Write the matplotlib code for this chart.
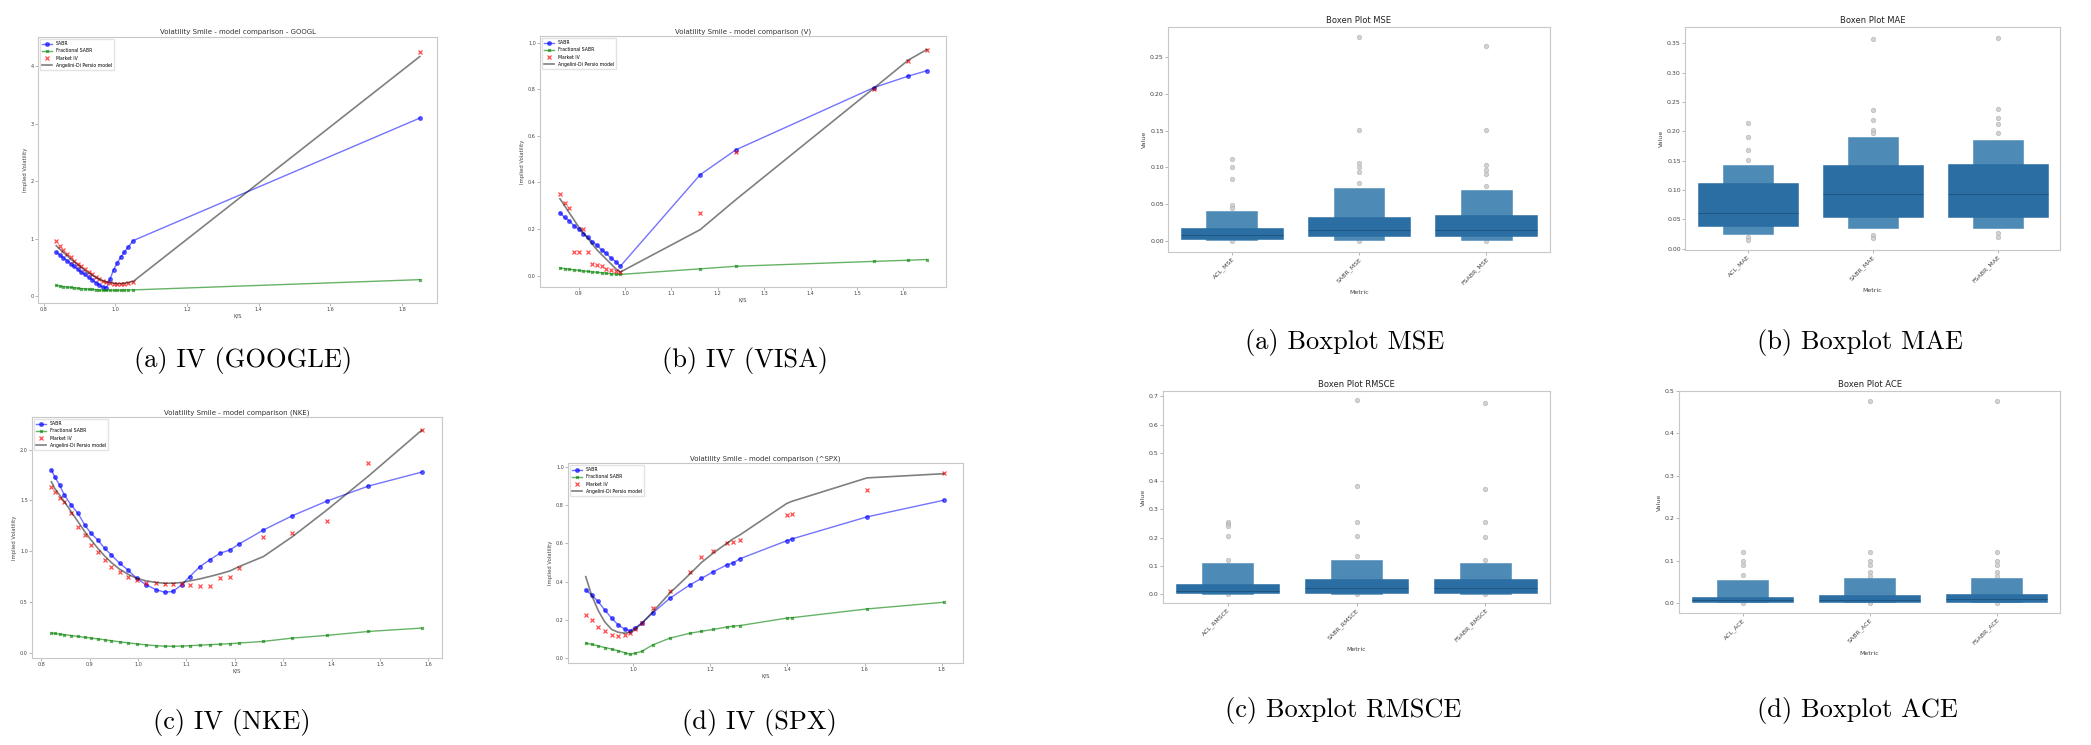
import matplotlib.pyplot as plt

W, H = 2091, 745

# ---------------- implied volatility smiles ----------------
google_k = [0.835, 0.845, 0.855, 0.865, 0.875, 0.885, 0.895, 0.905, 0.915, 0.925, 0.935,
            0.945, 0.955, 0.965, 0.975, 0.985, 0.995, 1.005, 1.015, 1.025, 1.035, 1.05, 1.85]
google_sabr = [0.77, 0.72, 0.67, 0.62, 0.57, 0.52, 0.47, 0.42, 0.38, 0.33, 0.29,
               0.24, 0.20, 0.16, 0.15, 0.30, 0.46, 0.58, 0.68, 0.77, 0.85, 0.97, 3.10]
google_frac = [0.19, 0.18, 0.17, 0.16, 0.155, 0.15, 0.14, 0.135, 0.13, 0.125, 0.12,
               0.115, 0.11, 0.105, 0.105, 0.105, 0.106, 0.107, 0.108, 0.109, 0.11, 0.112, 0.29]
google_market = [0.96, 0.88, 0.80, 0.74, 0.68, 0.62, 0.57, 0.52, 0.47, 0.42, 0.38,
                 0.34, 0.30, 0.27, 0.25, 0.24, 0.22, 0.21, 0.21, 0.22, 0.23, 0.25, 4.25]
google_model = [0.88, 0.82, 0.76, 0.71, 0.65, 0.60, 0.55, 0.50, 0.45, 0.41, 0.37,
                0.33, 0.30, 0.27, 0.25, 0.24, 0.23, 0.22, 0.22, 0.23, 0.24, 0.26, 4.17]

visa_k = [0.86, 0.87, 0.88, 0.89, 0.90, 0.91, 0.92, 0.93, 0.94, 0.95, 0.96, 0.97, 0.98, 0.99,
          1.162, 1.239, 1.536, 1.611, 1.651]
visa_sabr = [0.27, 0.25, 0.235, 0.215, 0.20, 0.18, 0.165, 0.145, 0.13, 0.11, 0.095, 0.075, 0.06, 0.04,
             0.433, 0.54, 0.807, 0.857, 0.88]
visa_frac = [0.033, 0.03, 0.027, 0.025, 0.022, 0.02, 0.018, 0.016, 0.014, 0.012, 0.01, 0.008, 0.006, 0.005,
             0.029, 0.04, 0.061, 0.066, 0.069]
visa_market = [0.35, 0.31, 0.29, 0.10, 0.10, 0.20, 0.10, 0.05, 0.045, 0.04, 0.03, 0.025, 0.02, 0.015,
               0.269, 0.529, 0.80, 0.92, 0.97]
visa_model = [0.33, 0.30, 0.27, 0.24, 0.21, 0.185, 0.16, 0.135, 0.11, 0.09, 0.07, 0.05, 0.03, 0.015,
              0.197, 0.326, 0.804, 0.926, 0.971]

nke_k = [0.821, 0.828, 0.838, 0.848, 0.862, 0.876, 0.890, 0.903, 0.917, 0.931, 0.945, 0.962, 0.979,
         0.997, 1.017, 1.038, 1.055, 1.072, 1.090, 1.107, 1.128, 1.148, 1.169, 1.190, 1.209,
         1.259, 1.319, 1.390, 1.476, 1.586]
nke_sabr = [1.797, 1.732, 1.650, 1.552, 1.454, 1.373, 1.258, 1.176, 1.111, 1.029, 0.964, 0.882, 0.817,
            0.735, 0.670, 0.621, 0.598, 0.605, 0.670, 0.752, 0.850, 0.915, 0.980, 1.013, 1.072,
            1.209, 1.350, 1.493, 1.641, 1.778]
nke_frac = [0.196, 0.192, 0.186, 0.180, 0.172, 0.163, 0.155, 0.147, 0.139, 0.130, 0.121, 0.110, 0.100,
            0.090, 0.080, 0.072, 0.067, 0.066, 0.068, 0.072, 0.077, 0.082, 0.087, 0.092, 0.098,
            0.114, 0.147, 0.173, 0.212, 0.245]
nke_market = [1.634, 1.585, 1.520, 1.487, 1.373, 1.242, 1.160, 1.062, 0.997, 0.915, 0.850, 0.800, 0.752,
              0.719, 0.693, 0.686, 0.683, 0.680, 0.676, 0.670, 0.660, 0.654, 0.735, 0.752, 0.833,
              1.144, 1.176, 1.301, 1.869, 2.196]
nke_model = [1.683, 1.618, 1.552, 1.487, 1.389, 1.291, 1.193, 1.111, 1.029, 0.954, 0.889, 0.824, 0.775,
             0.735, 0.709, 0.693, 0.686, 0.686, 0.693, 0.709, 0.729, 0.752, 0.778, 0.807, 0.850,
             0.948, 1.144, 1.405, 1.739, 2.190]

spx_k = [0.877, 0.892, 0.909, 0.926, 0.944, 0.961, 0.978, 0.991, 1.004, 1.022, 1.052, 1.095,
         1.147, 1.177, 1.208, 1.242, 1.260, 1.277, 1.398, 1.411, 1.606, 1.805]
spx_sabr = [0.357, 0.330, 0.296, 0.252, 0.209, 0.174, 0.151, 0.144, 0.157, 0.183, 0.238, 0.313,
            0.383, 0.417, 0.452, 0.487, 0.499, 0.520, 0.614, 0.623, 0.739, 0.826]
spx_frac = [0.078, 0.072, 0.064, 0.055, 0.047, 0.038, 0.028, 0.020, 0.025, 0.035, 0.070, 0.104,
            0.130, 0.140, 0.150, 0.162, 0.167, 0.170, 0.209, 0.211, 0.257, 0.292]
spx_market = [0.226, 0.200, 0.165, 0.140, 0.122, 0.113, 0.118, 0.130, 0.150, 0.185, 0.260, 0.350,
              0.450, 0.530, 0.560, 0.600, 0.610, 0.620, 0.748, 0.753, 0.882, 0.969]
spx_model = [0.426, 0.330, 0.250, 0.190, 0.150, 0.135, 0.130, 0.135, 0.150, 0.180, 0.245, 0.340,
             0.440, 0.500, 0.550, 0.600, 0.625, 0.645, 0.809, 0.820, 0.943, 0.965]

series_names = ['SABR', 'Fractional SABR', 'Market IV', 'Angelini-Di Persio model']

# ---------------- error metrics (letter-value boxes) ----------------
models = ['ACL', 'SABR', 'FSABR']

mse_q = [(0.003, 0.018), (0.0064, 0.0327), (0.0064, 0.036)]
mse_e = [(0.001, 0.041), (0.002, 0.0727), (0.002, 0.070)]
mse_med = [0.008, 0.015, 0.015]
mse_out = [[0.111, 0.101, 0.084, 0.049, 0.045, 0.0],
           [0.277, 0.151, 0.106, 0.101, 0.094, 0.079, 0.0],
           [0.265, 0.151, 0.103, 0.097, 0.091, 0.075, 0.0]]

mae_q = [(0.0386, 0.112), (0.055, 0.143), (0.0545, 0.145)]
mae_e = [(0.026, 0.143), (0.035, 0.191), (0.036, 0.186)]
mae_med = [0.061, 0.094, 0.094]
mae_out = [[0.215, 0.190, 0.168, 0.152, 0.020, 0.015],
           [0.358, 0.236, 0.219, 0.203, 0.198, 0.024, 0.019],
           [0.360, 0.239, 0.223, 0.212, 0.198, 0.027, 0.020]]

rmsce_q = [(0.0035, 0.035), (0.0035, 0.054), (0.0035, 0.054)]
rmsce_e = [(0.001, 0.109), (0.001, 0.121), (0.001, 0.108)]
rmsce_med = [0.012, 0.02, 0.02]
rmsce_out = [[0.256, 0.248, 0.239, 0.204, 0.121, 0.0],
             [0.686, 0.382, 0.256, 0.204, 0.133, 0.0],
             [0.676, 0.372, 0.256, 0.201, 0.121, 0.0]]

ace_q = [(0.0024, 0.0133), (0.0024, 0.018), (0.0024, 0.021)]
ace_e = [(0.0015, 0.055), (0.0015, 0.059), (0.0015, 0.059)]
ace_med = [0.006, 0.008, 0.009]
ace_out = [[0.12, 0.098, 0.090, 0.067, 0.0],
           [0.476, 0.12, 0.098, 0.090, 0.074, 0.064, 0.0],
           [0.476, 0.12, 0.098, 0.090, 0.074, 0.064, 0.0]]


def rect(left, top, right, bottom):
    return [left / W, 1 - bottom / H, (right - left) / W, (bottom - top) / H]


def style_axes(ax, size):
    for s in ax.spines.values():
        s.set_color('#c8c8c8')
        s.set_linewidth(0.8)
    ax.tick_params(labelsize=size, length=2, width=0.5, color='#999999', labelcolor='#444444', pad=1)


def smile(ax, k, sabr, frac, market, model, title, xticks, yticks, xlim, ylim):
    ax.plot(k, sabr, color='blue', marker='o', ms=2.6, lw=1.0, alpha=0.55, label=series_names[0])
    ax.plot(k, frac, color='green', marker='x', ms=2.0, lw=1.0, alpha=0.6, label=series_names[1])
    ax.plot(k, market, 'x', color='red', ms=3.0, mew=0.9, alpha=0.7, label=series_names[2])
    ax.plot(k, model, color='black', lw=1.2, alpha=0.5, label=series_names[3])
    ax.set_xlim(xlim)
    ax.set_ylim(ylim)
    ax.set_xticks(xticks)
    ax.set_yticks(yticks)
    style_axes(ax, 3.5)
    ax.set_title(title, fontsize=5, pad=2, color='#333333')
    ax.set_xlabel('K/S', fontsize=3.8, labelpad=1, color='#444444')
    ax.set_ylabel('Implied Volatility', fontsize=3.8, labelpad=2, color='#444444')
    ax.legend(loc='upper left', fontsize=3.3, frameon=True, borderpad=0.4, labelspacing=0.5,
              handlelength=2.2, edgecolor='#dddddd', fancybox=False)


def boxen(ax, metric, q, e, med, out, yticks, ylim):
    pos = list(range(len(models)))
    ax.bar(pos, [hi - lo for lo, hi in e], bottom=[lo for lo, hi in e], width=0.4,
           color='#4d8ab6', edgecolor='#4d8ab6', lw=0.4, zorder=2)
    ax.bar(pos, [hi - lo for lo, hi in q], bottom=[lo for lo, hi in q], width=0.8,
           color='#2b6ea3', edgecolor='#2b6ea3', lw=0.4, zorder=3)
    ax.hlines(med, [p - 0.4 for p in pos], [p + 0.4 for p in pos], color='#1f5580', lw=0.7, zorder=4)
    for p, pts in zip(pos, out):
        ax.plot([p] * len(pts), pts, 'o', ms=3.2, mfc='#c9c9c9', mec='#b0b0b0', mew=0.5,
                alpha=0.8, zorder=1)
    ax.set_xlim(-0.5, len(models) - 0.5)
    ax.set_ylim(ylim)
    ax.set_yticks(yticks)
    ax.set_xticks(pos)
    ax.set_xticklabels([m + '_' + metric for m in models], rotation=45, ha='right',
                       rotation_mode='anchor')
    style_axes(ax, 4.5)
    ax.set_title('Boxen Plot ' + metric, fontsize=6, pad=3, color='#222222')
    ax.set_xlabel('Metric', fontsize=4.5, labelpad=3, color='#444444')
    ax.set_ylabel('Value', fontsize=4.5, labelpad=2, color='#444444')


fig = plt.figure(figsize=(W / 100, H / 100), dpi=100)

ax = fig.add_axes(rect(38, 37, 437, 303))
smile(ax, google_k, google_sabr, google_frac, google_market, google_model,
      'Volatility Smile - model comparison - GOOGL',
      [0.8, 1.0, 1.2, 1.4, 1.6, 1.8], [0, 1, 2, 3, 4], (0.784, 1.898), (-0.116, 4.51))

ax = fig.add_axes(rect(540, 36, 946, 287))
smile(ax, visa_k, visa_sabr, visa_frac, visa_market, visa_model,
      'Volatility Smile - model comparison (V)',
      [0.9, 1.0, 1.1, 1.2, 1.3, 1.4, 1.5, 1.6], [0.0, 0.2, 0.4, 0.6, 0.8, 1.0],
      (0.859 - 0.042, 1.651 + 0.041), (-0.049, 1.029))

ax = fig.add_axes(rect(32, 417, 442, 658))
smile(ax, nke_k, nke_sabr, nke_frac, nke_market, nke_model,
      'Volatility Smile - model comparison (NKE)',
      [0.8, 0.9, 1.0, 1.1, 1.2, 1.3, 1.4, 1.5, 1.6], [0.0, 0.5, 1.0, 1.5, 2.0],
      (0.781, 1.628), (-0.049, 2.32))

ax = fig.add_axes(rect(568, 463, 963, 663))
smile(ax, spx_k, spx_sabr, spx_frac, spx_market, spx_model,
      'Volatility Smile - model comparison (^SPX)',
      [1.0, 1.2, 1.4, 1.6, 1.8], [0.0, 0.2, 0.4, 0.6, 0.8, 1.0],
      (0.831, 1.855), (-0.026, 1.021))

ax = fig.add_axes(rect(1168, 27, 1550, 252))
boxen(ax, 'MSE', mse_q, mse_e, mse_med, mse_out,
      [0.0, 0.05, 0.10, 0.15, 0.20, 0.25], (-0.015, 0.291))

ax = fig.add_axes(rect(1685, 27, 2060, 250))
boxen(ax, 'MAE', mae_q, mae_e, mae_med, mae_out,
      [0.0, 0.05, 0.10, 0.15, 0.20, 0.25, 0.30, 0.35], (-0.002, 0.378))

ax = fig.add_axes(rect(1163, 391, 1550, 603))
boxen(ax, 'RMSCE', rmsce_q, rmsce_e, rmsce_med, rmsce_out,
      [0.0, 0.1, 0.2, 0.3, 0.4, 0.5, 0.6, 0.7], (-0.032, 0.719))

ax = fig.add_axes(rect(1679, 391, 2060, 613))
boxen(ax, 'ACE', ace_q, ace_e, ace_med, ace_out,
      [0.0, 0.1, 0.2, 0.3, 0.4, 0.5], (-0.0235, 0.5))

captions = [('(a) IV (GOOGLE)', 243, 360), ('(b) IV (VISA)', 745, 360),
            ('(c) IV (NKE)', 232, 723), ('(d) IV (SPX)', 759, 722),
            ('(a) Boxplot MSE', 1345, 343), ('(b) Boxplot MAE', 1860, 343),
            ('(c) Boxplot RMSCE', 1343, 710), ('(d) Boxplot ACE', 1857, 710)]
for txt, cx, cy in captions:
    fig.text(cx / W, 1 - cy / H, txt, ha='center', va='center', fontsize=19,
             family=['cmr10', 'DejaVu Serif'])

fig.savefig('out.png', dpi=100)
